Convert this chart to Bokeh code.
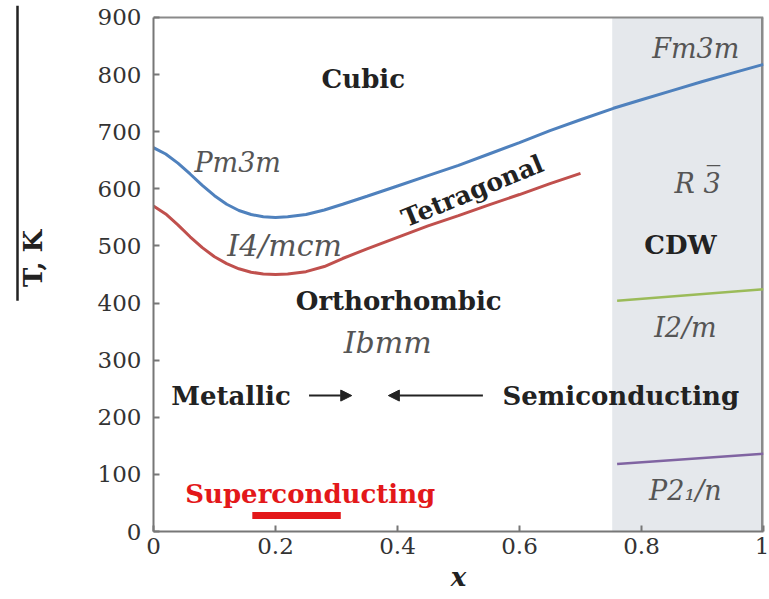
import math
from bokeh.plotting import figure
from bokeh.layouts import row
from bokeh.models import Arrow, NormalHead, FixedTicker, BoxAnnotation
from bokeh.core.properties import value
from bokeh.embed import file_html
from bokeh.resources import INLINE

# Phase boundaries, T (K) versus composition x
cubic_x = [0.0, 0.02, 0.04, 0.06, 0.08, 0.10, 0.12, 0.14, 0.16, 0.18, 0.20, 0.22, 0.25,
           0.28, 0.31, 0.35, 0.40, 0.45, 0.50, 0.55, 0.60, 0.65, 0.70, 0.754, 0.80, 0.85,
           0.90, 0.95, 1.0]
cubic_T = [672, 661, 645, 626, 606, 588, 573, 562, 555, 551, 550, 551, 555,
           563, 573, 587, 605, 623, 641, 661, 681, 702, 721, 741, 756, 772,
           788, 803, 818]

tetra_x = [0.0, 0.02, 0.04, 0.06, 0.08, 0.10, 0.12, 0.14, 0.16, 0.18, 0.20, 0.22, 0.25,
           0.28, 0.31, 0.35, 0.40, 0.45, 0.50, 0.55, 0.60, 0.65, 0.70]
tetra_T = [570, 556, 537, 516, 497, 481, 469, 460, 454, 451, 450, 451, 455,
           464, 478, 495, 515, 535, 553, 572, 590, 609, 627]

cdw_x = [0.76, 1.0]
cdw_T = [404, 424]

mono_x = [0.76, 1.0]
mono_T = [118, 136]

# composition window of the charge-density-wave region
cdw_region = (0.752, 1.0)

# superconducting composition range
sc_x = [0.162, 0.307]
sc_T = [28, 28]

x_ticks = [0, 0.2, 0.4, 0.6, 0.8, 1.0]
x_tick_labels = ["0", "0.2", "0.4", "0.6", "0.8", "1"]
y_ticks = [0, 100, 200, 300, 400, 500, 600, 700, 800, 900]
T_MAX = 900

bold_text = ["Cubic", "Orthorhombic", "Metallic", "Semiconducting", "CDW"]
bold_x = [0.344, 0.402, 0.127, 0.766, 0.864]
bold_T = [793, 404, 238, 238, 501]

group_text = ["Pm3m", "Fm3m", "R 3", "I2/m", "P2\u2081/n"]
group_x = [0.138, 0.889, 0.892, 0.872, 0.872]
group_T = [646, 846, 609, 357, 72]

low_group_text = ["I4/mcm", "Ibmm"]
low_group_x = [0.215, 0.384]
low_group_T = [500, 331]

SERIF = "DejaVu Serif"
INK = "#222222"
FRAME = "#8a8a8a"

# headroom above T_MAX so the axis-title rule can start near the page top
Y_TOP = 921

# narrow side panel carrying the temperature axis title
side = figure(width=60, height=599, x_range=(0, 60), y_range=(0, Y_TOP),
              output_backend="svg", toolbar_location=None, min_border=0,
              outline_line_color=None, background_fill_color="white",
              border_fill_color="white")
side.axis.visible = False
side.grid.visible = False
side.segment(x0=[17], y0=[Y_TOP], x1=[17], y1=[404], line_color=INK, line_width=2.5)
side.text([32], [478], text=["T, K"], angle=math.pi / 2, text_font=value(SERIF),
          text_font_style="bold", text_font_size="26px", text_color=INK,
          text_align="center", text_baseline="middle")

p = figure(width=709, height=599, x_range=(0, 1), y_range=(0, Y_TOP),
           output_backend="svg", toolbar_location=None,
           min_border_left=93, min_border_right=6,
           min_border_top=5, min_border_bottom=68,
           background_fill_color="white", border_fill_color="white")
p.grid.visible = False
p.outline_line_color = None

# shaded CDW region
p.add_layout(BoxAnnotation(left=cdw_region[0], right=cdw_region[1], bottom=0, top=T_MAX,
                           fill_color="#e5e8ec", fill_alpha=1.0, line_alpha=0,
                           level="underlay"))

# top and right edges of the plotting box
p.segment(x0=[0], y0=[T_MAX], x1=[1], y1=[T_MAX], line_color=FRAME, line_width=2)
p.segment(x0=[1], y0=[0], x1=[1], y1=[T_MAX], line_color=FRAME, line_width=5)

p.line(cubic_x, cubic_T, line_color="#4f81bd", line_width=3)
p.line(tetra_x, tetra_T, line_color="#c0504d", line_width=3)
p.line(cdw_x, cdw_T, line_color="#9bbb59", line_width=2.5)
p.line(mono_x, mono_T, line_color="#8064a2", line_width=2.5)
p.line(sc_x, sc_T, line_color="#e3181a", line_width=7)

# axes
for ax in (p.xaxis, p.yaxis):
    ax.axis_line_color = "#777777"
    ax.axis_line_width = 2
    ax.major_tick_line_color = "#777777"
    ax.major_tick_line_width = 2
    ax.major_tick_in = 6
    ax.major_tick_out = 0
    ax.minor_tick_line_color = None
    ax.major_label_text_font = SERIF
    ax.major_label_text_font_size = "23px"
    ax.major_label_text_color = "#333333"

p.xaxis.ticker = FixedTicker(ticks=x_ticks)
p.xaxis.major_label_overrides = {t: s for t, s in zip(x_ticks, x_tick_labels)}
p.xaxis.major_label_standoff = 6
p.xaxis.axis_label = "x"
p.xaxis.axis_label_text_font = SERIF
p.xaxis.axis_label_text_font_style = "bold italic"
p.xaxis.axis_label_text_font_size = "26px"
p.xaxis.axis_label_text_color = INK
p.xaxis.axis_label_standoff = 5

p.yaxis.ticker = FixedTicker(ticks=y_ticks)
p.yaxis.bounds = (0, T_MAX)
p.yaxis.major_label_standoff = 12

# region names
p.text(bold_x, bold_T, text=bold_text, text_font=value(SERIF), text_font_style="bold",
       text_font_size="26px", text_color=INK, text_align="center", text_baseline="middle")
p.text(group_x, group_T, text=group_text, text_font=value(SERIF), text_font_style="italic",
       text_font_size="27px", text_color="#555555", text_align="center", text_baseline="middle")
p.text(low_group_x, low_group_T, text=low_group_text, text_font=value(SERIF),
       text_font_style="italic", text_font_size="30px", text_color="#555555",
       text_align="center", text_baseline="middle")
# bar over the 3 of the rhombohedral group
p.text([group_x[2]], [group_T[2]], text=["\u203e"], x_offset=16, y_offset=-7,
       text_font=value(SERIF), text_font_size="27px", text_color="#555555",
       text_align="center", text_baseline="middle")
p.text([0.523], [596], text=["Tetragonal"], angle=0.39, text_font=value(SERIF),
       text_font_style="bold", text_font_size="25px", text_color=INK,
       text_align="center", text_baseline="middle")
p.text([0.257], [65], text=["Superconducting"], text_font=value(SERIF), text_font_style="bold",
       text_font_size="26px", text_color="#e3181a", text_align="center", text_baseline="middle")

# metallic / semiconducting trend arrows
p.add_layout(Arrow(end=NormalHead(size=11, fill_color=INK, line_color=INK),
                   x_start=0.255, y_start=238, x_end=0.325, y_end=238,
                   line_color=INK, line_width=2))
p.add_layout(Arrow(end=NormalHead(size=11, fill_color=INK, line_color=INK),
                   x_start=0.54, y_start=238, x_end=0.385, y_end=238,
                   line_color=INK, line_width=2))

open("out.html", "w").write(file_html(row(side, p), INLINE))
